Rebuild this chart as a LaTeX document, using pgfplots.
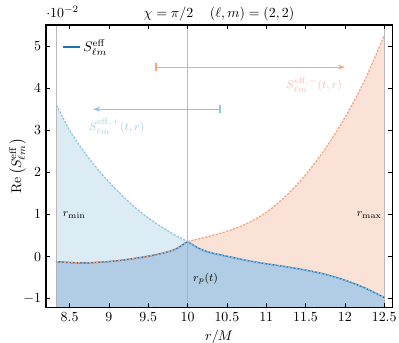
\documentclass[border=0pt]{standalone}
\usepackage{pgfplots}
\pgfplotsset{compat=1.18}
\usetikzlibrary{arrows.meta}
\definecolor{seff}{RGB}{33,113,181}
\definecolor{pblue}{RGB}{146,197,222}
\definecolor{morange}{RGB}{244,165,130}
\definecolor{vgray}{RGB}{175,175,175}
\begin{document}
\begin{tikzpicture}
\begin{axis}[
  scale only axis, width=249pt, height=203pt,
  xmin=8.2, xmax=12.6, ymin=-1.2, ymax=5.5,
  xtick={8.5,9,9.5,10,10.5,11,11.5,12,12.5},
  ytick={-1,0,1,2,3,4,5},
  tick align=inside, tick pos=both, major tick length=3pt,
  tick style={black, line width=0.5pt},
  axis on top, axis line style={line width=0.8pt},
  clip=false,
  xlabel={$r/M$},
  title={$\chi=\pi/2\hspace{12pt}(\ell,m)=(2,2)$},
  title style={yshift=-6.5pt},
  legend style={at={(0.035,0.922)}, anchor=west, draw=none, fill=none},
  legend cell align=left,
  legend image code/.code={\draw[#1] (0cm,0cm) -- (0.42cm,0cm);},
]
% fills
\addplot[fill=pblue!32, draw=none, smooth, forget plot] coordinates {
(8.3333,3.60) (8.5,3.00) (8.7,2.45) (8.9,1.98) (9.1,1.58) (9.3,1.22) (9.5,0.92) (9.7,0.67) (9.85,0.50) (10.0,0.36)}
 -- (axis cs:10,-1.2) -- (axis cs:8.3333,-1.2) -- cycle;
\addplot[fill=morange!32, draw=none, smooth, forget plot] coordinates {
(10.0,0.36) (10.25,0.47) (10.5,0.60) (10.75,0.78) (11.0,1.05) (11.25,1.44) (11.5,1.94) (11.75,2.56) (12.0,3.30) (12.25,4.18) (12.5,5.25)}
 -- (axis cs:12.5,-1.2) -- (axis cs:10,-1.2) -- cycle;
\addplot[fill=seff!35, draw=none, smooth, forget plot] coordinates {
(8.3333,-0.12) (8.5,-0.14) (8.7,-0.15) (8.9,-0.13) (9.1,-0.10) (9.3,-0.05) (9.5,0.01) (9.7,0.09) (9.85,0.18) (10.0,0.36)}
 -- (axis cs:10,-1.2) -- (axis cs:8.3333,-1.2) -- cycle;
\addplot[fill=seff!35, draw=none, smooth, forget plot] coordinates {
(10.0,0.36) (10.15,0.19) (10.3,0.09) (10.5,0.01) (10.75,-0.09) (11.0,-0.17) (11.25,-0.24) (11.5,-0.32) (11.75,-0.42) (12.0,-0.56) (12.25,-0.74) (12.5,-0.97)}
 -- (axis cs:12.5,-1.2) -- (axis cs:10,-1.2) -- cycle;
% vertical lines
\addplot[vgray, line width=0.8pt, opacity=0.85, forget plot] coordinates {(8.3333,-1.2) (8.3333,5.5)};
\addplot[vgray, line width=0.8pt, opacity=0.85, forget plot] coordinates {(10,-1.2) (10,5.5)};
\addplot[vgray, line width=0.8pt, opacity=0.85, forget plot] coordinates {(12.5,-1.2) (12.5,5.5)};
% S_eff solid
\addplot[seff, line width=1pt, smooth, forget plot] coordinates {
(8.3333,-0.12) (8.5,-0.14) (8.7,-0.15) (8.9,-0.13) (9.1,-0.10) (9.3,-0.05) (9.5,0.01) (9.7,0.09) (9.85,0.18) (10.0,0.36)};
\addplot[seff, line width=1pt, smooth, forget plot] coordinates {
(10.0,0.36) (10.15,0.19) (10.3,0.09) (10.5,0.01) (10.75,-0.09) (11.0,-0.17) (11.25,-0.24) (11.5,-0.32) (11.75,-0.42) (12.0,-0.56) (12.25,-0.74) (12.5,-0.97)};
% dashed S+ : own part left, coincides with S_eff right
\addplot[pblue, line width=0.9pt, dash pattern=on 1.6pt off 1pt, smooth, forget plot] coordinates {
(8.3333,3.60) (8.5,3.00) (8.7,2.45) (8.9,1.98) (9.1,1.58) (9.3,1.22) (9.5,0.92) (9.7,0.67) (9.85,0.50) (10.0,0.36)};
\addplot[pblue, line width=0.9pt, dash pattern=on 1.6pt off 1pt, smooth, forget plot] coordinates {
(10.0,0.36) (10.15,0.19) (10.3,0.09) (10.5,0.01) (10.75,-0.09) (11.0,-0.17) (11.25,-0.24) (11.5,-0.32) (11.75,-0.42) (12.0,-0.56) (12.25,-0.74) (12.5,-0.97)};
% dashed S- : coincides with S_eff left, own part right
\addplot[morange, line width=0.9pt, dash pattern=on 1.6pt off 1pt, smooth, forget plot] coordinates {
(8.3333,-0.12) (8.5,-0.14) (8.7,-0.15) (8.9,-0.13) (9.1,-0.10) (9.3,-0.05) (9.5,0.01) (9.7,0.09) (9.85,0.18) (10.0,0.36)};
\addplot[morange, line width=0.9pt, dash pattern=on 1.6pt off 1pt, smooth, forget plot] coordinates {
(10.0,0.36) (10.25,0.47) (10.5,0.60) (10.75,0.78) (11.0,1.05) (11.25,1.44) (11.5,1.94) (11.75,2.56) (12.0,3.30) (12.25,4.18) (12.5,5.25)};
% arrows
\addplot[morange, line width=0.8pt, {Bar[width=5.5pt,line width=0.6pt,sep=1.8pt]Bar[width=5.5pt,line width=0.6pt]}-{Stealth[length=5pt,width=3.5pt]}, forget plot] coordinates {(9.55,4.5) (12.0,4.5)};
\addplot[pblue, line width=0.8pt, {Bar[width=5.5pt,line width=0.6pt,sep=1.8pt]Bar[width=5.5pt,line width=0.6pt]}-{Stealth[length=5pt,width=3.5pt]}, forget plot] coordinates {(10.45,3.5) (8.8,3.5)};
% legend
\addlegendimage{seff, line width=1pt}
\addlegendentry{$S^{\mathrm{eff}}_{\ell m}$}
% labels
\node[text=morange!75, font=\footnotesize] at (axis cs:11.61,4.07) {$S^{\mathrm{eff},-}_{\ell m}(t,r)$};
\node[text=pblue!85, font=\footnotesize] at (axis cs:9.10,3.08) {$S^{\mathrm{eff},+}_{\ell m}(t,r)$};
\node[font=\footnotesize] at (axis cs:8.56,0.99) {$r_{\min}$};
\node[font=\footnotesize] at (axis cs:12.31,0.99) {$r_{\max}$};
\node[font=\footnotesize] at (axis cs:10.23,-0.52) {$r_{p}(t)$};
\node[anchor=south west, inner sep=0pt] at ([yshift=5pt]rel axis cs:0,1) {$\cdot 10^{-2}$};
\node[rotate=90, anchor=center] at (rel axis cs:-0.082,0.5) {$\mathrm{Re}\left(S^{\mathrm{eff}}_{\ell m}\right)$};
\coordinate (bl) at (rel axis cs:0,0);
\coordinate (tr) at (rel axis cs:1,1);
\end{axis}
\pgfresetboundingbox
\path ([shift={(-33.1pt,-25.2pt)}]bl) rectangle ([shift={(5pt,18pt)}]tr);
\end{tikzpicture}
\end{document}
